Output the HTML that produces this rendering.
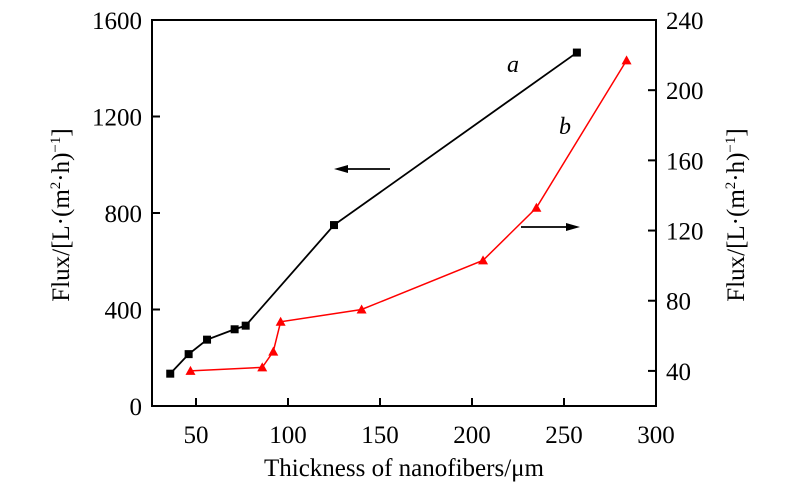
<!DOCTYPE html>
<html><head><meta charset="utf-8"><style>
body{margin:0;background:#fff}
svg{display:block;font-family:"Liberation Serif",serif}
</style></head><body>
<svg width="800" height="493">
<g id="g"></g>
</svg>
<script>
const xTicks=[50,100,150,200,250,300];
const yLeftTicks=[0,400,800,1200,1600];
const yRightTicks=[40,80,120,160,200,240];
const aX=[36,46,56,71,77,125,257];
const aY=[134,215,275,318,333,750,1465];
const bX=[47,86,92,96,140,206,235,284];
const bY=[40,42,51,68,75,103,133,217];
const L=152,R=656,T=20,B=406;
const xs=v=>196+(v-50)*1.84;
const yl=v=>B-(v/1600)*(B-T);
const yr=v=>B-((v-20)/220)*(B-T);
const g=document.getElementById('g');
const NS='http://www.w3.org/2000/svg';
function mk(t,a,p){const e=document.createElementNS(NS,t);for(const k in a)e.setAttribute(k,a[k]);(p||g).appendChild(e);return e;}
const frame=mk('rect',{x:L,y:T,width:R-L,height:B-T,fill:'none',stroke:'#000','stroke-width':2});


xTicks.forEach(v=>{const x=xs(v);
 const t=mk('line',{x1:x,x2:x,y1:B,y2:B-8,stroke:'#000','stroke-width':2});
 
 
 const s=mk('text',{x:x,y:B+37,'text-anchor':'middle','font-size':25});s.textContent=v;
 
 });
yLeftTicks.forEach(v=>{const y=yl(v);
 const t=mk('line',{x1:L,x2:L+8,y1:y,y2:y,stroke:'#000','stroke-width':2});
 
 
 const s=mk('text',{x:L-10,y:y+9,'text-anchor':'end','font-size':25});s.textContent=v;
 
 });
yRightTicks.forEach(v=>{const y=yr(v);
 const t=mk('line',{x1:R,x2:R-8,y1:y,y2:y,stroke:'#000','stroke-width':2});
 
 
 const s=mk('text',{x:R+10,y:y+9,'text-anchor':'start','font-size':25});s.textContent=v;
 
 });
const la=mk('polyline',{points:aX.map((x,i)=>xs(x)+','+yl(aY[i])).join(' '),fill:'none',stroke:'#000','stroke-width':1.8});


aX.forEach((x,i)=>{const m=mk('rect',{x:xs(x)-4,y:yl(aY[i])-4,width:8,height:8,fill:'#000'});
 
 });
const lb=mk('polyline',{points:bX.map((x,i)=>xs(x)+','+yr(bY[i])).join(' '),fill:'none',stroke:'#f00','stroke-width':1.5});


bX.forEach((x,i)=>{const cx=xs(x),cy=yr(bY[i]);const m=mk('polygon',{points:`${cx-5},${cy+4} ${cx+5},${cy+4} ${cx},${cy-5}`,fill:'#f00'});
 
 });
</script>
<svg width="800" height="493" style="position:absolute;left:0;top:0">
<text x="507" y="72" font-size="24" font-style="italic">a</text>
<text x="559" y="134" font-size="24" font-style="italic">b</text>
<g><line x1="390" y1="169" x2="340" y2="169" stroke="#000" stroke-width="1.8"/><polygon points="334,169 348,165 348,173" fill="#000"/></g>
<g><line x1="521" y1="227" x2="574" y2="227" stroke="#000" stroke-width="1.8"/><polygon points="580,227 566,223 566,231" fill="#000"/></g>
<text x="404" y="476" font-size="25" text-anchor="middle">Thickness of nanofibers/μm</text>
<text transform="translate(69,215) rotate(-90)" font-size="25" text-anchor="middle">Flux/[L·(m<tspan font-size="15" dy="-9">2</tspan><tspan dy="9">·h)</tspan><tspan font-size="15" dy="-9">−1</tspan><tspan dy="9">]</tspan></text>
<text transform="translate(744,215) rotate(-90)" font-size="25" text-anchor="middle">Flux/[L·(m<tspan font-size="15" dy="-9">2</tspan><tspan dy="9">·h)</tspan><tspan font-size="15" dy="-9">−1</tspan><tspan dy="9">]</tspan></text>
</svg>
</body></html>
